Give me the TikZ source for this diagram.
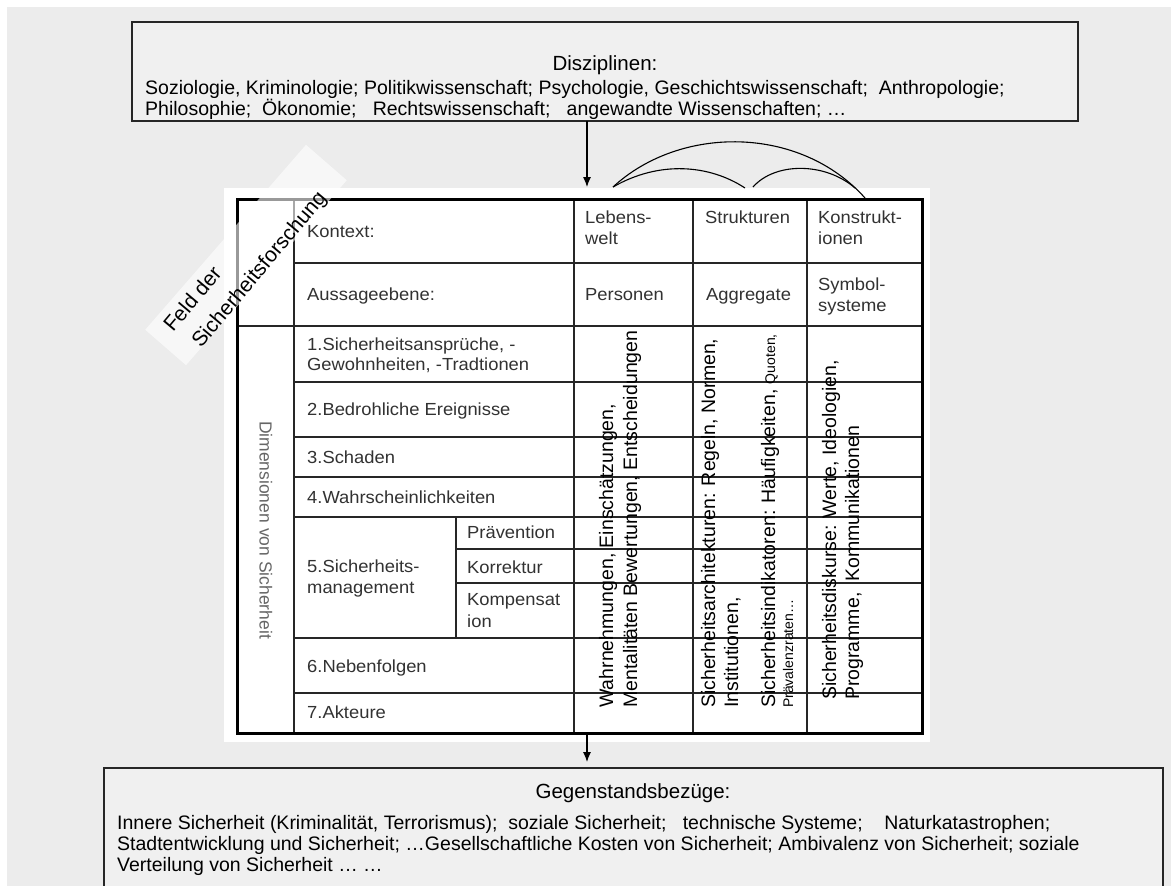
\documentclass[tikz,border=0pt]{standalone}
\usepackage{fontspec}
\setmainfont{Liberation Sans}
\newfontfamily\tabfont[FakeStretch=1.05]{Liberation Sans}
\usetikzlibrary{arrows.meta}
\definecolor{hgrund}{RGB}{236,236,236}
\definecolor{boxgrau}{RGB}{240,240,240}
\definecolor{tabtext}{RGB}{50,50,50}
\tikzset{
  kasten/.style={draw=black!85,line width=1.3pt,fill=boxgrau,inner sep=0pt},
  titel/.style={font=\fontsize{20.5}{22}\selectfont,anchor=base,inner sep=0pt},
  zeile/.style={font=\fontsize{19.5}{21}\selectfont,anchor=base west,inner sep=0pt},
  tabzeile/.style={font=\tabfont\fontsize{17.5}{21}\selectfont,text=tabtext,anchor=base west,inner sep=0pt},
  hoch/.style={font=\fontsize{19.5}{21}\selectfont,rotate=90,anchor=base west,inner sep=0pt},
  schraeg/.style={font=\fontsize{21}{23}\selectfont,rotate=50,anchor=base west,inner sep=0pt},
  linie/.style={line width=1.1pt,black!85},
  pfeil/.style={-{Latex[length=10pt,width=8pt]},line width=1.1pt},
  bogen/.style={line width=1.1pt},
  band/.style={fill=white,fill opacity=0.6,draw=none,inner sep=0pt},
}
\begin{document}
\begin{tikzpicture}[x=1pt,y=-1pt]
\def\tabL{237}
\def\tabR{922}
\def\tabO{199}
\def\tabU{733}
\useasboundingbox (0,0) rectangle (1171,886);
\clip (0,0) rectangle (1171,886);
    %Hintergrund
    \fill[white] (0,0) rectangle (1171,886);
    \fill[hgrund] (7,7) rectangle (1171,886);

    %Kasten oben
    \node[kasten,minimum width=946pt,minimum height=99pt] (disz) at (605,71.5) {};
    \node[titel] (disztitel) at (605,70) {Disziplinen:};
    \node[zeile] (disz1) at (145,94) {Soziologie, Kriminologie; Politikwissenschaft; Psychologie, Geschichtswissenschaft;\ \ Anthropologie;};
    \node[zeile] (disz2) at (145,115) {Philosophie;\ \ Ökonomie;\ \ \ Rechtswissenschaft;\ \ \ angewandte Wissenschaften; …};

    %Kasten unten
    \node[kasten,minimum width=1059pt,minimum height=140pt] (gegen) at (633.5,838) {};
    \node[titel] (gegentitel) at (633,798) {Gegenstandsbezüge:};
    \node[zeile] (gegen1) at (117,829) {Innere Sicherheit (Kriminalität, Terrorismus);\ \ soziale Sicherheit;\ \ \ technische Systeme;\ \ \ \ Naturkatastrophen;};
    \node[zeile] (gegen2) at (117,850) {Stadtentwicklung und Sicherheit; …Gesellschaftliche Kosten von Sicherheit; Ambivalenz von Sicherheit; soziale};
    \node[zeile] (gegen3) at (117,871) {Verteilung von Sicherheit …\ …};

    %Tabelle
    \fill[white] (224,188) rectangle (930,742);
    \foreach \x in {294,574,693,807}{
        \draw[linie] (\x,\tabO) -- (\x,\tabU);
    }
    \draw[linie] (294,263) -- (\tabR,263);
    \draw[linie] (\tabL,326) -- (\tabR,326);
    \foreach \y in {382,437,477,517,638,693}{
        \draw[linie] (294,\y) -- (\tabR,\y);
    }
    \foreach \y in {549,583}{
        \draw[linie] (456,\y) -- (\tabR,\y);
    }
    \draw[linie] (456,517) -- (456,638);
    \draw[line width=3pt] (\tabL,\tabO) rectangle (\tabR,\tabU);

    %Kopfzeilen
    \node[tabzeile] (kontext) at (307,237) {Kontext:};
    \node[tabzeile] (aussage) at (307,300) {Aussageebene:};
    \node[tabzeile] (lebens1) at (585,223) {Lebens-};
    \node[tabzeile] (lebens2) at (585,244) {welt};
    \node[tabzeile] (struk) at (705,223) {Strukturen};
    \node[tabzeile] (konstr1) at (818,223) {Konstrukt-};
    \node[tabzeile] (konstr2) at (818,244) {ionen};
    \node[tabzeile] (personen) at (585,300) {Personen};
    \node[tabzeile] (aggregate) at (706,300) {Aggregate};
    \node[tabzeile] (symbol1) at (818,290) {Symbol-};
    \node[tabzeile] (symbol2) at (818,311) {systeme};

    %Dimensionen
    \node[font=\fontsize{17.5}{20}\selectfont,text=black!60,rotate=-90,inner sep=0pt] (dimension) at (266,530) {Dimensionen von Sicherheit};
    \node[tabzeile] (dim1a) at (307,350) {1.Sicherheitsansprüche, -};
    \node[tabzeile] (dim1b) at (307,370) {Gewohnheiten, -Tradtionen};
    \node[tabzeile] (dim2) at (307,415) {2.Bedrohliche Ereignisse};
    \node[tabzeile] (dim3) at (307,463) {3.Schaden};
    \node[tabzeile] (dim4) at (307,503) {4.Wahrscheinlichkeiten};
    \node[tabzeile] (dim5a) at (307,572) {5.Sicherheits-};
    \node[tabzeile] (dim5b) at (307,593) {management};
    \node[tabzeile] (praevention) at (467,538) {Prävention};
    \node[tabzeile] (korrektur) at (467,573) {Korrektur};
    \node[tabzeile] (kompens1) at (467,605) {Kompensat};
    \node[tabzeile] (kompens2) at (467,627) {ion};
    \node[tabzeile] (dim6) at (307,672) {6.Nebenfolgen};
    \node[tabzeile] (dim7) at (307,718) {7.Akteure};

    %Spalten hochkant
    \node[hoch] (wahr) at (613,708) {Wahrnehmungen, Einschätzungen,};
    \node[hoch] (menta) at (637,708) {Mentalitäten Bewertungen, Entscheidungen};
    \node[hoch] (archi) at (715,708) {Sicherheitsarchitekturen: Regeln, Normen,};
    \node[hoch] (inst) at (738,708) {Institutionen,};
    \node[hoch] (indik) at (775,708) {Sicherheitsindikatoren: Häufigkeiten, {\fontsize{14}{14}\selectfont Quoten,}};
    \node[hoch,font=\fontsize{14}{14}\selectfont] (praev) at (793,708) {Prävalenzraten…};
    \node[hoch] (diskurs) at (836,700) {Sicherheitsdiskurse: Werte, Ideologien,};
    \node[hoch] (progr) at (859,700) {Programme,\ \ Kommunikationen};

    %Feld der Sicherheitsforschung
    \node[band,rotate=49,minimum width=245pt,minimum height=54pt] (feld) at (246,255) {};
    \node[schraeg] (feld1) at (173,333) {Feld der};
    \node[schraeg] (feld2) at (201,349) {Sicherheitsforschung};

    %Pfeile und Boegen
    \coordinate (obenaus) at (587,121);
    \coordinate (tabein) at (587,187);
    \coordinate (tabaus) at (587,733);
    \coordinate (untenein) at (587,762);
    \draw[pfeil] (obenaus) -- (tabein);
    \draw[pfeil] (tabaus) -- (untenein);
    \coordinate (lwtop) at (613,187);
    \coordinate (sttop) at (745,188);
    \coordinate (sttop2) at (753,187);
    \coordinate (kotop) at (855,188);
    \coordinate (koende) at (865,198);
    \draw[bogen] (lwtop) .. controls (680,125) and (800,125) .. (koende);
    \draw[bogen] (lwtop) .. controls (660,160) and (710,165) .. (sttop);
    \draw[bogen] (sttop2) .. controls (775,162) and (825,162) .. (kotop);
\end{tikzpicture}
\end{document}
